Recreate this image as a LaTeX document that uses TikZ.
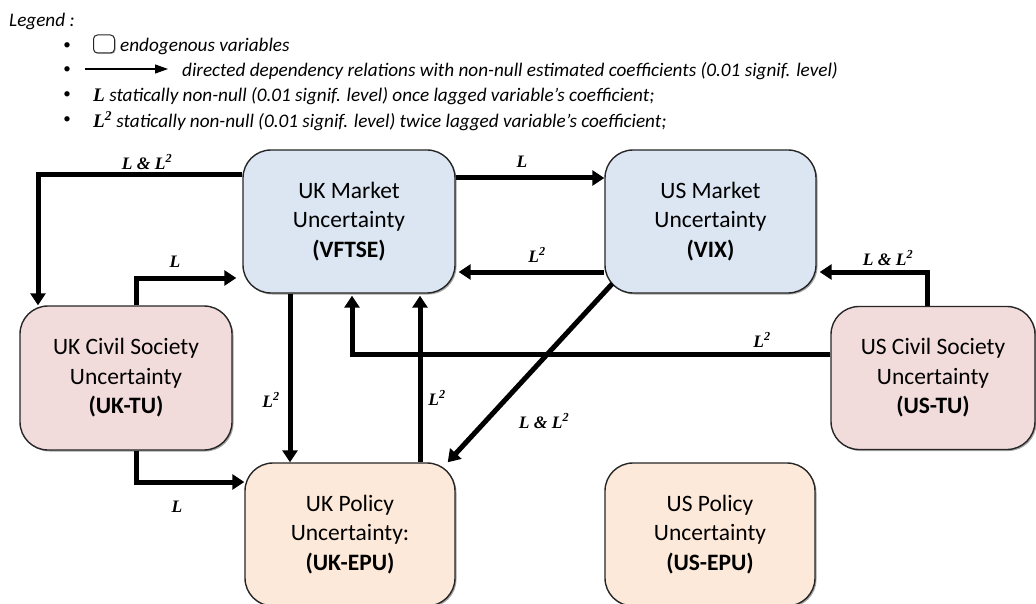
\documentclass[tikz,border=0pt]{standalone}
\usepackage{fontspec}
\setmainfont{Carlito}
\newfontfamily\lserif{Liberation Serif}
\usetikzlibrary{arrows.meta,calc,shadows}
\definecolor{mktblue}{HTML}{DCE6F2}
\definecolor{civpink}{HTML}{F2DCDB}
\definecolor{polpeach}{HTML}{FDE9D9}
\definecolor{edgegray}{HTML}{262626}
\tikzset{
  varbox/.style={draw=edgegray, line width=1.4pt, rounded corners=28pt, align=center,
    font=\fontsize{23.5}{29.5}\selectfont, inner sep=0pt,
    drop shadow={shadow xshift=1.5pt, shadow yshift=-1.5pt, opacity=0.35, fill=black}},
  mkt/.style={varbox, fill=mktblue},
  civ/.style={varbox, fill=civpink},
  pol/.style={varbox, fill=polpeach},
  arr/.style={line width=5pt, -{Triangle[length=12pt,width=15pt]}},
  lab/.style={font=\lserif\bfseries\itshape\fontsize{17.5}{19}\selectfont, inner sep=0pt},
  legtxt/.style={font=\itshape\fontsize{19.2}{21}\selectfont, anchor=west, inner sep=0pt},
  bul/.style={font=\fontsize{15}{17}\selectfont, inner sep=0pt}
}
\begin{document}
\begin{tikzpicture}[x=1pt, y=-1pt]
\useasboundingbox (0,0) rectangle (1036,604);
% legend
\node[legtxt] (leg) at (9,21) {Legend :};
\node[bul] (b1) at (67,46) {\textbullet};
\node[bul] (b2) at (67,70) {\textbullet};
\node[bul] (b3) at (67,95) {\textbullet};
\node[bul] (b4) at (67,120) {\textbullet};
\node[draw=edgegray, fill=white, line width=1pt, rounded corners=4pt, minimum width=21pt, minimum height=18pt, inner sep=0pt,
  drop shadow={shadow xshift=1pt, shadow yshift=-1pt, opacity=0.3, fill=black}] (lbox) at (104,44) {};
\node[legtxt] (t1) at (120,46) {endogenous variables};
\coordinate (la1) at (85,69);
\coordinate (la2) at (168,69);
\draw[line width=1.1pt, -{Triangle[length=13pt,width=9pt]}] (la1) -- (la2);
\node[legtxt] (t2) at (182,71) {directed dependency relations with non-null estimated coefficients (0.01 signif. level)};
\node[legtxt] (t3) at (93,96) {{\lserif\bfseries L} statically non-null (0.01 signif. level) once lagged variable’s coefficient;};
\node[legtxt] (t4) at (93,121) {{\lserif\bfseries L\textsuperscript{2}} statically non-null (0.01 signif. level) twice lagged variable’s coefficient;};
% boxes
\node[mkt, minimum width=212pt, minimum height=143pt] (UKM) at (349,221.5) {UK Market\\Uncertainty\\\textbf{(VFTSE)}};
\node[mkt, minimum width=211pt, minimum height=143pt] (USM) at (710.5,221.5) {US Market\\Uncertainty\\\textbf{(VIX)}};
\node[civ, minimum width=212pt, minimum height=144pt] (UKTU) at (126,378) {UK Civil Society\\Uncertainty\\\textbf{(UK-TU)}};
\node[civ, minimum width=204pt, minimum height=143pt] (USTU) at (933,378) {US Civil Society\\Uncertainty\\\textbf{(US-TU)}};
\node[pol, minimum width=210pt, minimum height=143pt] (UKEPU) at (350,534.5) {UK Policy\\Uncertainty:\\\textbf{(UK-EPU)}};
\node[pol, minimum width=210pt, minimum height=143pt] (USEPU) at (710,534.5) {US Policy\\Uncertainty\\\textbf{(US-EPU)}};
% connectors
\draw[arr] (UKM.west |- 0,175) -| (UKTU.north -| 38,0);
\draw[arr, shorten >=6pt] (UKTU.north -| 136,0) |- (UKM.west |- 0,278);
\draw[arr] (UKM.east |- 0,178) -- (USM.west |- 0,178);
\draw[arr, shorten >=3pt] (USM.west |- 0,272) -- (UKM.east |- 0,272);
\draw[arr, shorten >=3pt] (USTU.north -| 927,0) |- (USM.east |- 0,272);
\draw[arr, shorten >=2pt] (USTU.west |- 0,354) -| (UKM.south -| 352,0);
\draw[arr] (UKM.south -| 290,0) -- (UKEPU.north -| 290,0);
\draw[arr, shorten >=2pt] (UKEPU.north -| 420,0) -- (UKM.south -| 420,0);
\draw[arr] ($(USM.south west)+(8,-10)$) -- ($(UKEPU.north east)+(-8,0)$);
\draw[arr] (UKTU.south -| 136,0) |- (UKEPU.west |- 0,482);
% labels
\node[lab] (l1) at (147,162) {L \& L\textsuperscript{2}};
\node[lab] (l2) at (175,262) {L};
\node[lab] (l3) at (522,162) {L};
\node[lab] (l4) at (537,255) {L\textsuperscript{2}};
\node[lab] (l5) at (888,258) {L \& L\textsuperscript{2}};
\node[lab] (l6) at (762,340) {L\textsuperscript{2}};
\node[lab] (l7) at (271,400) {L\textsuperscript{2}};
\node[lab] (l8) at (437,398) {L\textsuperscript{2}};
\node[lab] (l9) at (544,421) {L \& L\textsuperscript{2}};
\node[lab] (l10) at (177,507) {L};
\end{tikzpicture}
\end{document}
